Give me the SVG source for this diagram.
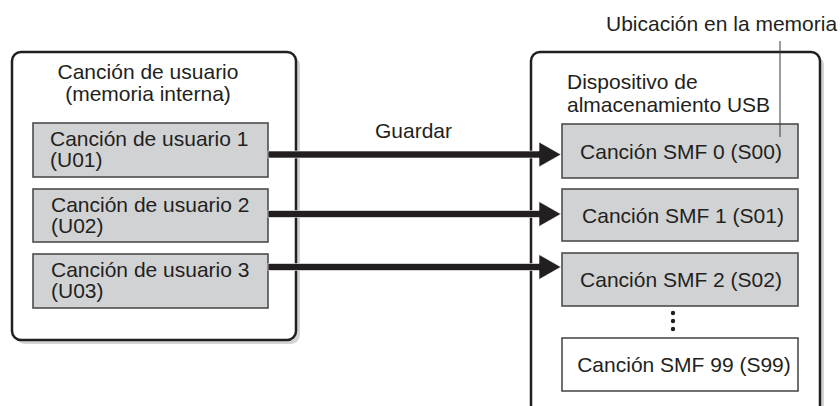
<svg xmlns="http://www.w3.org/2000/svg" width="840" height="406" viewBox="0 0 840 406">
<style>
text{font-family:"Liberation Sans",Arial,sans-serif;font-size:21px;fill:#231f20}
.shadow{fill:#d4d4d6;stroke:none}
.outer{fill:#fff;stroke:#231f20;stroke-width:2.5}
.item{fill:#d1d2d4;stroke:#4d4d4f;stroke-width:1.6}
.empty{fill:#fff;stroke:#4d4d4f;stroke-width:1.6}
.arrow{fill:#231f20;stroke:#fff;stroke-width:0.6}
.mid{text-anchor:middle}
</style>
<rect width="840" height="406" fill="#fff"/>
<g id="internal">
<rect class="shadow" x="16" y="56" width="284" height="288" rx="9"/>
<rect class="outer" x="12" y="52" width="284" height="288" rx="9"/>
<text class="mid" x="148" y="79">Canción de usuario</text>
<text class="mid" x="148" y="101">(memoria interna)</text>
</g>
<g id="u01">
<rect class="item" x="33" y="123" width="235" height="54"/>
<text x="50" y="146">Canción de usuario 1</text>
<text x="50" y="167">(U01)</text>
</g>
<g id="u02">
<rect class="item" x="33" y="189" width="235" height="53"/>
<text x="51" y="212">Canción de usuario 2</text>
<text x="51" y="233">(U02)</text>
</g>
<g id="u03">
<rect class="item" x="33" y="254" width="235" height="54"/>
<text x="51" y="277">Canción de usuario 3</text>
<text x="51" y="298">(U03)</text>
</g>
<g id="usb">
<rect class="shadow" x="535" y="56" width="289" height="370" rx="9"/>
<rect class="outer" x="531" y="52" width="289" height="370" rx="9"/>
<text x="567" y="89">Dispositivo de</text>
<text x="567" y="112">almacenamiento USB</text>
</g>
<g id="s00">
<rect class="item" x="562" y="124" width="236" height="54"/>
<text class="mid" x="681" y="159">Canción SMF 0 (S00)</text>
</g>
<g id="s01">
<rect class="item" x="562" y="189" width="236" height="52"/>
<text class="mid" x="683" y="223">Canción SMF 1 (S01)</text>
</g>
<g id="s02">
<rect class="item" x="562" y="253" width="236" height="53"/>
<text class="mid" x="681" y="287">Canción SMF 2 (S02)</text>
</g>
<g id="ellipsis">
<circle cx="673" cy="313" r="2.2" fill="#231f20"/>
<circle cx="673" cy="321" r="2.2" fill="#231f20"/>
<circle cx="673" cy="329" r="2.2" fill="#231f20"/>
</g>
<g id="s99">
<rect class="empty" x="562" y="338" width="236" height="53"/>
<text class="mid" x="684" y="372">Canción SMF 99 (S99)</text>
</g>
<g id="location-label">
<text x="606" y="31">Ubicación en la memoria</text>
</g>
<g id="connectors">
<line x1="780" y1="41" x2="780" y2="137" stroke="#3a3a3c" stroke-width="1"/>
<path class="arrow" d="M268,151 H539 V142 L561,154.5 L539,167 V158 H268 Z"/>
<path class="arrow" d="M268,210.5 H539 V201.5 L561,214 L539,226.5 V217.5 H268 Z"/>
<path class="arrow" d="M268,263.5 H539 V254.5 L561,267 L539,279.5 V270.5 H268 Z"/>
<text x="375" y="138">Guardar</text>
</g>
</svg>
